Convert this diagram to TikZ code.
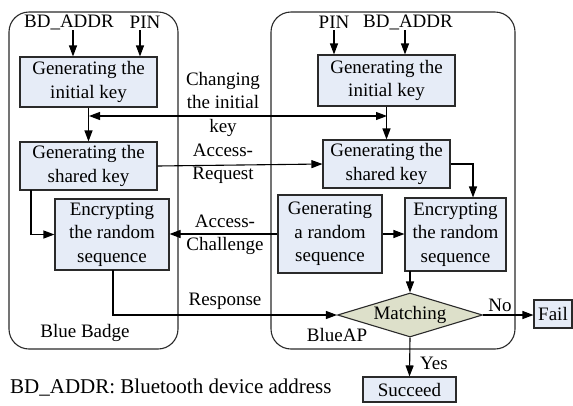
\documentclass[tikz,border=0pt]{standalone}
\usepackage{fontspec}
\setmainfont{Liberation Serif}
\newfontfamily\diagfont{Liberation Serif}
\usetikzlibrary{arrows.meta,shapes.geometric}
\definecolor{boxfill}{HTML}{E6ECF7}
\definecolor{decfill}{HTML}{DDE0CA}
\definecolor{edge}{HTML}{2A2A2A}
\tikzset{
  every node/.style={font=\diagfont\fontsize{19}{23.5}\selectfont, inner sep=0pt},
  stepbox/.style={draw=edge, line width=1.1pt, fill=boxfill, align=center},
  decision/.style={diamond, aspect=3.4, draw=edge, line width=1.1pt, fill=decfill},
  container/.style={draw=edge, line width=1.1pt, rounded corners=20pt},
  lbl/.style={align=center},
  conn/.style={line width=1.1pt, draw=black},
  arr/.style={conn, -{Triangle[length=11pt,width=8pt]}},
  darr/.style={conn, {Triangle[length=11pt,width=8pt]}-{Triangle[length=11pt,width=8pt]}},
}
\begin{document}
\begin{tikzpicture}[x=1pt,y=-1pt]
\useasboundingbox (0,0) rectangle (573,405);

% the two devices
\draw[container] (9,12) rectangle (178,349);
\draw[container] (271,12) rectangle (515,349);

% Blue Badge side
\node (bdl) at (69,22) {BD\_ADDR};
\node (pinl) at (145,22) {PIN};
\node[stepbox, minimum width=137pt, minimum height=50pt] (l1) at (88.5,82) {Generating the\\initial key};
\node[stepbox, minimum width=137pt, minimum height=48pt] (l2) at (88.5,166) {Generating the\\shared key};
\node[stepbox, minimum width=114pt, minimum height=71pt] (l3) at (112,234.5) {Encrypting\\the random\\sequence};
\node (badge) at (85,333) {Blue Badge};

% BlueAP side
\node (pinr) at (334,22) {PIN};
\node (bdr) at (408,22) {BD\_ADDR};
\node[stepbox, minimum width=137pt, minimum height=51pt] (r1) at (386.5,80.5) {Generating the\\initial key};
\node[stepbox, minimum width=127pt, minimum height=48pt] (r2) at (386.5,164) {Generating the\\shared key};
\node[stepbox, minimum width=104pt, minimum height=78pt] (r3) at (330,234) {Generating\\a random\\sequence};
\node[stepbox, minimum width=101pt, minimum height=73pt] (r4) at (455.5,234.5) {Encrypting\\the random\\sequence};
\node[decision, minimum width=145pt, minimum height=44pt] (match) at (410,315) {Matching};
\node (ap) at (337,335) {BlueAP};

% results
\node[stepbox, minimum width=38pt, minimum height=28pt] (fail) at (553,314) {Fail};
\node[stepbox, minimum width=93pt, minimum height=25pt] (ok) at (409.5,389.5) {Succeed};

% message labels
\node[lbl] (chg) at (223,104) {Changing\\the initial\\key};
\node[lbl] (req) at (223,163.5) {Access-\\Request};
\node[lbl] (chal) at (225,235) {Access-\\Challenge};
\node (resp) at (225,301) {Response};
\node (nolbl) at (500,305) {No};
\node (yeslbl) at (434,363) {Yes};

\node[anchor=west, font=\diagfont\fontsize{21}{25}\selectfont] (note) at (10,388) {BD\_ADDR: Bluetooth device address};

% inputs
\coordinate (ia) at (73,30);
\coordinate (ib) at (140,30);
\coordinate (ic) at (334,30);
\coordinate (id) at (405,30);
\draw[arr] (ia) -- (ia |- l1.north);
\draw[arr] (ib) -- (ib |- l1.north);
\draw[arr] (ic) -- (ic |- r1.north);
\draw[arr] (id) -- (id |- r1.north);

% Blue Badge flow
\draw[arr] (l1.south) -- (l2.north);
\coordinate (lk) at (31,190);
\draw[arr] (lk) |- (l3.west);

% BlueAP flow
\draw[arr] (r1.south) -- (r2.north);
\coordinate (rk) at (473,164);
\draw[arr] (r2.east) -- (rk) -- (rk |- r4.north);
\draw[arr] (r3.east) -- (r4.west |- r3.east);
\coordinate (rm) at (410,271);
\draw[arr] (rm) -- (match.north);
\draw[arr] (match.east) -- (fail.west |- match.east);
\draw[arr] (match.south) -- (ok.north);

% messages between the devices
\coordinate (cl) at (89,116);
\coordinate (cr) at (387,116);
\draw[darr] (cl) -- (cr);
\draw[arr] (l2.east) -- (r2.west);
\draw[arr] (r3.west) -- (l3.east |- r3.west);
\coordinate (rs) at (113,270);
\draw[arr] (rs) |- (match.west);
\end{tikzpicture}
\end{document}
